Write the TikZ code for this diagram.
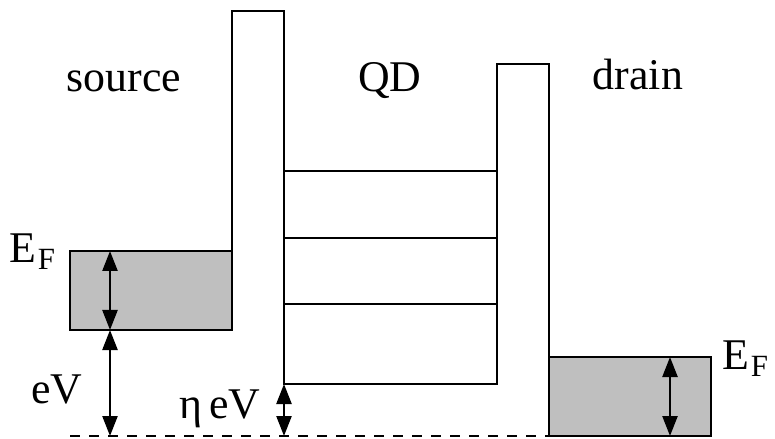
\documentclass[tikz,border=0pt]{standalone}
\usepackage{fontspec}
\setmainfont{Liberation Serif}
\usetikzlibrary{arrows.meta}
\begin{document}
\begin{tikzpicture}[x=1bp,y=-1bp,
  outline/.style={line width=2.6bp,line join=miter},
  level/.style={line width=1.4bp},
  band/.style={fill=black!25,draw=black,line width=1.6bp},
  dbl/.style={line width=2.4bp,{Triangle[length=20bp,width=15bp]}-{Triangle[length=20bp,width=15bp]}},
  lbl/.style={inner sep=0pt,anchor=base,font=\fontsize{44}{50}\selectfont},
  sub/.style={inner sep=0pt,anchor=base west,font=\fontsize{44}{50}\selectfont}]
\useasboundingbox (0,0) rectangle (775,439);
% bands
\draw[band] (70,251) rectangle (232,330);
\draw[band] (549,357) rectangle (711,436);
% barriers and dot
\draw[outline] (232,251) -- (232,11) -- (284,11) -- (284,384) -- (497,384) -- (497,64) -- (549,64) -- (549,357);
\foreach \yy in {171,238,304} \draw[level] (284,\yy) -- (497,\yy);
% dashed reference
\draw[line width=2.4bp,dash pattern=on 10bp off 9bp] (70,436) -- (549,436);
% named points
\coordinate (sTop) at (110,251);
\coordinate (sBot) at (110,330);
\coordinate (base) at (110,436);
\coordinate (qdBot) at (284,384);
\coordinate (qdBase) at (284,436);
\coordinate (dTop) at (670,357);
\coordinate (dBot) at (670,436);
\draw[dbl] (sTop) -- (sBot);
\draw[dbl] (sBot) -- (base);
\draw[dbl] (qdBot) -- (qdBase);
\draw[dbl] (dTop) -- (dBot);
% labels
\node[lbl] (src) at (124,92) {source};
\node[lbl] (qd) at (390,92) {QD};
\node[lbl] (drn) at (638,90) {drain};
\node[sub] (efl) at (9,263) {E\kern2bp\raisebox{-7bp}{\fontsize{31}{33}\selectfont F}};
\node[sub] (efr) at (722,370) {E\kern2bp\raisebox{-7bp}{\fontsize{31}{33}\selectfont F}};
\node[lbl] (ev) at (57,403) {eV};
\node[lbl] (etaev) at (220,418) {η\,eV};
\end{tikzpicture}
\end{document}
